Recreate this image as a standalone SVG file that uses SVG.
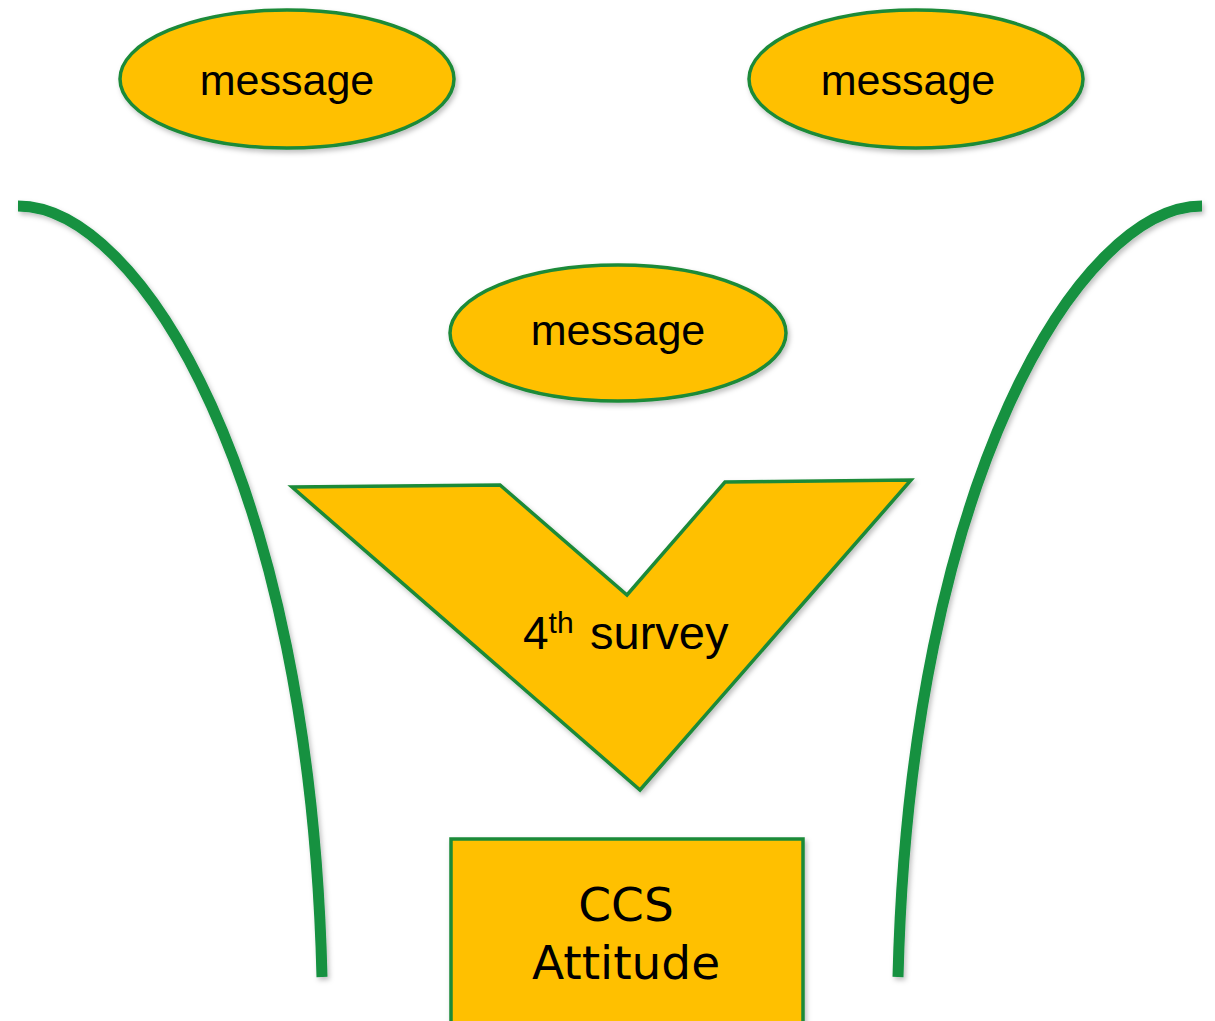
<svg xmlns="http://www.w3.org/2000/svg" width="1215" height="1021" viewBox="0 0 1215 1021">
  <defs>
    <filter id="shadow" x="-10%" y="-10%" width="130%" height="130%">
      <feDropShadow dx="2" dy="3" stdDeviation="2.5" flood-color="#000" flood-opacity="0.25"/>
    </filter>
  </defs>
  <style>
    .shape { fill: #FFC000; stroke: #1A8A38; stroke-width: 3.5; filter: url(#shadow); }
    .curve { fill: none; stroke: #139140; stroke-width: 11; filter: url(#shadow); }
    .lbl { font-family: "Liberation Sans", Arial, sans-serif; fill: #000; }
    .box { font-family: "DejaVu Sans", Verdana, sans-serif; fill: #000; font-size: 47px; }
  </style>
  <rect width="1215" height="1021" fill="#fff"/>

  <!-- funnel walls -->
  <g id="connectors">
    <path class="curve" d="M18,206 C140,206 310,480 322,977"/>
    <path class="curve" d="M1202,206 C1080,206 910,480 898,977"/>
  </g>

  <g id="message-left">
    <ellipse class="shape" cx="287" cy="79" rx="167" ry="69"/>
    <text class="lbl" x="287" y="95" font-size="43" text-anchor="middle">message</text>
  </g>

  <g id="message-right">
    <ellipse class="shape" cx="916" cy="79" rx="167" ry="69"/>
    <text class="lbl" x="908" y="95" font-size="43" text-anchor="middle">message</text>
  </g>

  <g id="message-center">
    <ellipse class="shape" cx="618" cy="333" rx="168" ry="68"/>
    <text class="lbl" x="618" y="345" font-size="43" text-anchor="middle">message</text>
  </g>

  <g id="survey">
    <polygon class="shape" points="292,487 500,485 627,595 725,482 911,480 640,790"/>
    <text class="lbl" x="523" y="649" font-size="46">4<tspan font-size="30" dy="-16">th</tspan><tspan x="590" dy="16" font-size="47">survey</tspan></text>
  </g>

  <g id="ccs-attitude">
    <rect class="shape" x="451" y="839" width="352" height="190"/>
    <text class="box" x="626" y="921" text-anchor="middle">CCS</text>
    <text class="box" x="626" y="979" text-anchor="middle">Attitude</text>
  </g>
</svg>
